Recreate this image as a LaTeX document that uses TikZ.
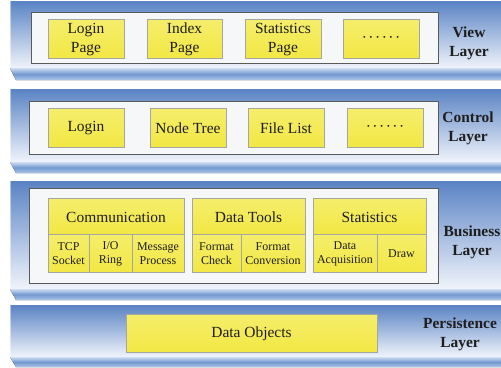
\documentclass[tikz,border=0pt]{standalone}
\usepackage{fontspec}
\setmainfont{Liberation Serif}
\newfontfamily\tms{Liberation Serif}
\definecolor{faceTop}{HTML}{5A83C4}
\definecolor{faceBot}{HTML}{F0F4FB}
\definecolor{bevTop}{HTML}{CFDEF2}
\definecolor{bevMid}{HTML}{7198D0}
\definecolor{bevBot}{HTML}{ADC6E7}
\definecolor{panelLine}{HTML}{5A5A5A}
\definecolor{panelFill}{HTML}{F6F7F9}
\definecolor{yLine}{HTML}{A6A6A0}
\definecolor{yTop}{HTML}{F5EE6C}
\definecolor{yBot}{HTML}{F2E744}
\definecolor{txt}{HTML}{1E1E1E}
\newcommand\mydots{\textperiodcentered\kern1.5bp\textperiodcentered\kern1.5bp\textperiodcentered\kern1.5bp\textperiodcentered\kern1.5bp\textperiodcentered\kern1.5bp\textperiodcentered}
\newcommand\bx[7]{%
  \pgfmathsetmacro\bw{#5-#3}\pgfmathsetmacro\bh{#6-#4}%
  \pgfmathsetmacro\bcx{(#3+#5)/2}\pgfmathsetmacro\bcy{(#4+#6)/2}%
  \node[#1, minimum width=\bw bp, minimum height=\bh bp] (#2) at (\bcx,\bcy) {};
  \node[#1 text, yshift=-1bp] (#2t) at (#2.center) {#7};}
\newcommand\slab[3]{% top, face bottom, bevel bottom
  \fill[top color=faceTop, bottom color=faceBot] (10,#1) rectangle (501,#2);
  \fill[white, opacity=0.5] (10,#1) rectangle (11.2,#2);
  \fill[top color=bevTop, bottom color=bevBot, middle color=bevMid] (10,#2) -- (501,#2) -- (501,#3) -- (16,#3) -- cycle;}
\tikzset{
  panel/.style={draw=panelLine, fill=panelFill, line width=0.8bp, inner sep=0pt, outer sep=0pt},
  panel text/.style={inner sep=0pt},
  ybox/.style={draw=yLine, top color=yTop, bottom color=yBot, line width=0.9bp, inner sep=0pt, outer sep=0pt},
  ybox text/.style={inner sep=0pt, align=center, text=txt, font=\tms\fontsize{15.5}{19}\selectfont},
  sbox/.style={ybox},
  sbox text/.style={inner sep=0pt, align=center, text=txt, font=\tms\fontsize{12}{14}\selectfont},
  lab/.style={align=center, text=txt, font=\tms\bfseries\fontsize{15.5}{19}\selectfont}
}
\begin{document}
\begin{tikzpicture}[x=1bp, y=-1bp]
\useasboundingbox (0,0) rectangle (501,367);
\clip (0,0) rectangle (501,367);
% layer slabs
\slab{1}{68}{80}
\slab{89}{162}{173}
\slab{181}{289}{300}
\slab{305}{357}{367}
% View layer
\bx{panel}{viewpanel}{31}{12}{438}{63}{}
\bx{ybox}{loginpage}{48}{19}{124}{58}{Login\\Page}
\bx{ybox}{indexpage}{147}{19}{222}{58}{Index\\Page}
\bx{ybox}{statpage}{245}{19}{321}{58}{Statistics\\Page}
\bx{ybox}{viewmore}{343}{19}{419}{58}{\mydots}
\node[lab] (viewlab) at (469,43) {View\\Layer};
% Control layer
\bx{panel}{ctrlpanel}{29}{101}{438}{154}{}
\bx{ybox}{login}{48}{108}{124}{147}{Login}
\bx{ybox}{nodetree}{150}{108}{226}{147}{Node Tree}
\bx{ybox}{filelist}{248}{108}{324}{147}{File List}
\bx{ybox}{ctrlmore}{347}{108}{423}{147}{\mydots}
\node[lab] (ctrllab) at (468,128) {Control\\Layer};
% Business layer
\bx{panel}{buspanel}{29}{188}{438}{283}{}
\bx{ybox}{comm}{48}{198}{184}{234}{Communication}
\bx{sbox}{tcp}{48}{234}{89}{272}{TCP\\Socket}
\bx{sbox}{io}{89}{234}{132}{272}{I/O\\Ring}
\bx{sbox}{msg}{132}{234}{184}{272}{Message\\Process}
\bx{ybox}{tools}{192}{198}{305}{234}{Data Tools}
\bx{sbox}{fcheck}{192}{234}{241}{272}{Format\\Check}
\bx{sbox}{fconv}{241}{234}{305}{272}{Format\\Conversion}
\bx{ybox}{stats}{313}{198}{426}{234}{Statistics}
\bx{sbox}{acq}{313}{234}{377}{272}{Data\\Acquisition}
\bx{sbox}{draw}{377}{234}{426}{272}{Draw}
\node[lab] (buslab) at (472,242) {Business\\Layer};
% Persistence layer
\bx{ybox}{dataobj}{126}{314}{377}{352}{Data Objects}
\node[lab] (perslab) at (460,334) {Persistence\\Layer};
\end{tikzpicture}
\end{document}
